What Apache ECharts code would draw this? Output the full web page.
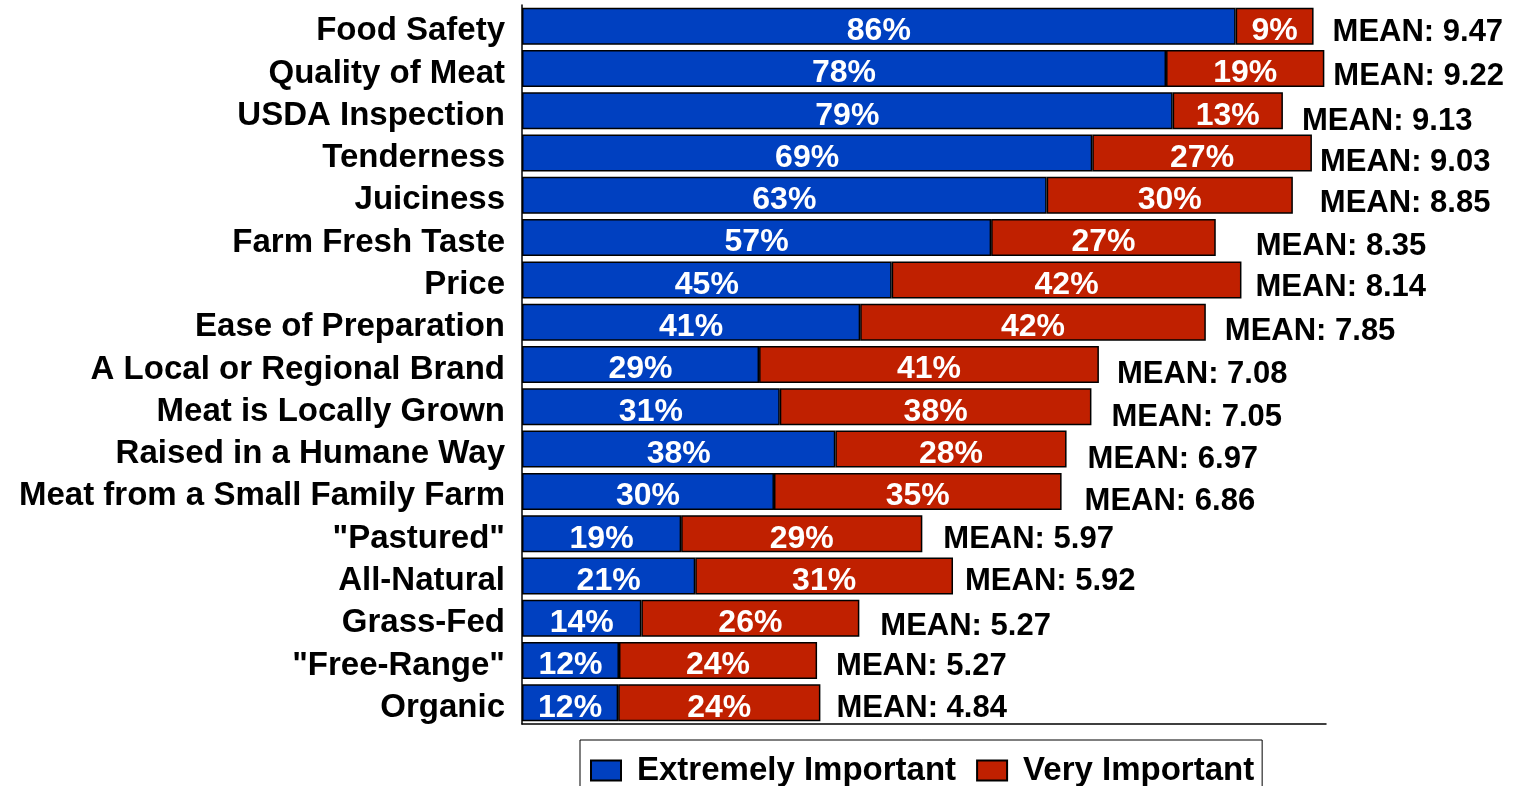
<!DOCTYPE html>
<html>
<head>
<meta charset="utf-8">
<title>Importance of meat attributes</title>
<script src="https://cdn.jsdelivr.net/npm/echarts@6/dist/echarts.min.js"></script>
<style>
  html, body { margin: 0; padding: 0; background: #fff; }
  #chart_box { width: 1513px; height: 786px; }
</style>
</head>
<body>
<div id="chart_box"></div>
<script>
  // categories, top to bottom
  var categories = ['Food Safety', 'Quality of Meat', 'USDA Inspection', 'Tenderness', 'Juiciness',
    'Farm Fresh Taste', 'Price', 'Ease of Preparation', 'A Local or Regional Brand',
    'Meat is Locally Grown', 'Raised in a Humane Way', 'Meat from a Small Family Farm',
    '"Pastured"', 'All-Natural', 'Grass-Fed', '"Free-Range"', 'Organic'];
  // % answering "Extremely Important" (labels are rounded)
  var extremelyImportant = [86.1, 77.7, 78.5, 68.8, 63.3, 56.6, 44.6, 40.8, 28.6, 31.1, 37.8, 30.4, 19.2, 20.9, 14.4, 11.7, 11.6];
  // % answering "Very Important"
  var veryImportant = [9.4, 19.1, 13.3, 26.5, 29.7, 27.1, 42.2, 41.7, 41.0, 37.6, 27.9, 34.7, 29.1, 31.1, 26.3, 23.9, 24.4];
  // mean importance score
  var meanScores = [9.47, 9.22, 9.13, 9.03, 8.85, 8.35, 8.14, 7.85, 7.08, 7.05, 6.97, 6.86, 5.97, 5.92, 5.27, 5.27, 4.84];

  // label nudges for the MEAN text (px), layout only
  var meanLabelShift = [[19, 6], [9, 8], [19, 11], [8, 9], [27, 8], [40, 9], [14, 8], [19, 9], [18, 10],
    [20, 11], [21, 10], [23, 10], [21, 6], [12, 5], [21, 8], [19, 6], [16, 6]];

  var FONT = "'Liberation Sans', Arial, Helvetica, sans-serif";
  var BLUE = '#0040C0';
  var RED = '#C02000';

  var myChart = echarts.init(document.getElementById('chart_box'));

  var pctLabel = {
    show: true,
    position: 'inside',
    offset: [0, 5],
    color: '#fff',
    fontFamily: FONT,
    fontWeight: 'bold',
    fontSize: 32,
    formatter: function (p) { return Math.round(p.value) + '%'; }
  };

  var meanData = meanScores.map(function (m, i) {
    return {
      value: 0,
      label: { offset: meanLabelShift[i] }
    };
  });

  var option = {
    backgroundColor: '#fff',
    animation: false,
    grid: {
      left: 522,
      right: 187,
      top: 5,
      bottom: 62,
      containLabel: false
    },
    legend: {
      data: ['Extremely Important', 'Very Important'],
      left: 580,
      top: 740,
      orient: 'horizontal',
      icon: 'rect',
      itemWidth: 30,
      itemHeight: 20,
      itemGap: 20,
      padding: [14, 8, 10, 10],
      borderColor: '#000',
      borderWidth: 1,
      textStyle: {
        color: '#000',
        fontFamily: FONT,
        fontWeight: 'bold',
        fontSize: 33,
        padding: [0, 0, 0, 11]
      }
    },
    xAxis: {
      type: 'value',
      min: 0,
      max: 97,
      axisLabel: { show: false },
      axisTick: { show: false },
      splitLine: { show: false },
      axisLine: {
        show: true,
        lineStyle: { color: '#000', width: 1.5 }
      }
    },
    yAxis: {
      type: 'category',
      data: categories,
      inverse: true,
      axisTick: { show: false },
      axisLine: {
        show: true,
        lineStyle: { color: '#000', width: 1.5 }
      },
      axisLabel: {
        interval: 0,
        color: '#000',
        margin: 17,
        verticalAlign: 'top',
        lineHeight: 10,
        fontFamily: FONT,
        fontWeight: 'bold',
        fontSize: 33
      }
    },
    series: [
      {
        name: 'Extremely Important',
        type: 'bar',
        stack: 'total',
        barCategoryGap: '12.5%',
        data: extremelyImportant,
        itemStyle: { color: BLUE, borderColor: '#000', borderWidth: 1.5 },
        label: pctLabel
      },
      {
        name: 'Very Important',
        type: 'bar',
        stack: 'total',
        data: veryImportant,
        itemStyle: { color: RED, borderColor: '#000', borderWidth: 1.5 },
        label: pctLabel
      },
      {
        name: 'mean',
        type: 'bar',
        stack: 'total',
        silent: true,
        data: meanData,
        itemStyle: { color: 'transparent', borderWidth: 0 },
        label: {
          show: true,
          position: 'right',
          distance: 0,
          color: '#000',
          fontFamily: FONT,
          fontWeight: 'bold',
          fontSize: 31,
          formatter: function (p) { return 'MEAN: ' + meanScores[p.dataIndex].toFixed(2); }
        }
      }
    ]
  };

  myChart.setOption(option);
  window.addEventListener('resize', function () { myChart.resize(); });
</script>
</body>
</html>
